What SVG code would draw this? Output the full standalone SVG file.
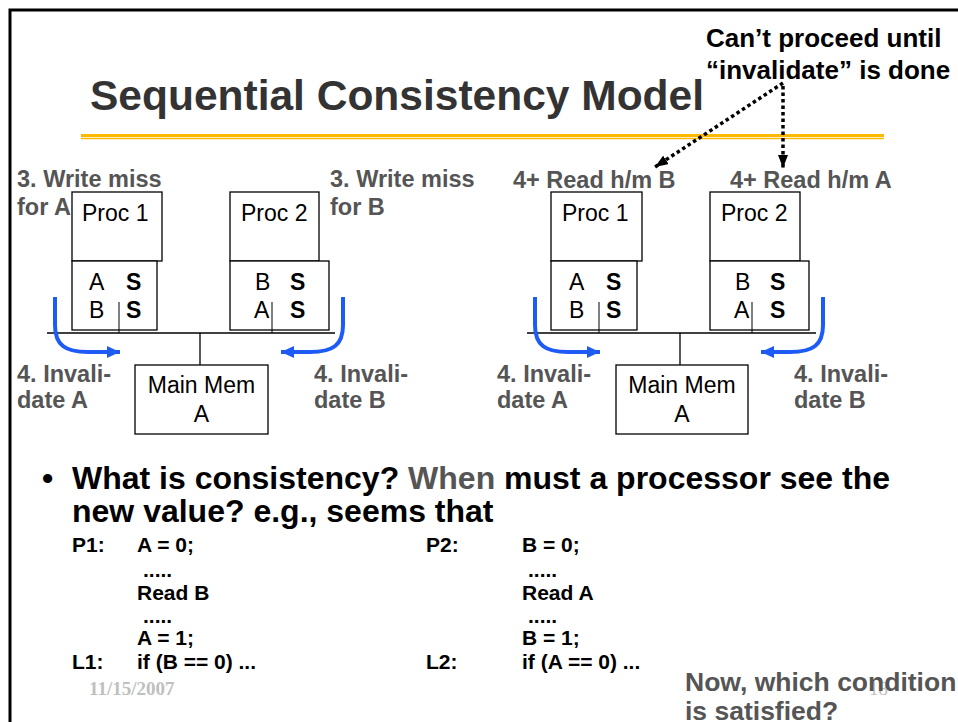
<svg xmlns="http://www.w3.org/2000/svg" width="958" height="722" viewBox="0 0 958 722">
<defs>
<style>
.b{font-family:"Liberation Sans",Arial,sans-serif;font-weight:bold}
.r{font-family:"Liberation Sans",Arial,sans-serif}
.lbl{font-family:"Liberation Sans",Arial,sans-serif;font-weight:bold;font-size:23.5px;fill:#555}
.box{fill:#fff;stroke:#000;stroke-width:1.3}
.t23{font-size:23px;fill:#000}
.code{font-family:"Liberation Sans",Arial,sans-serif;font-weight:bold;font-size:21px;fill:#000}
.dot{stroke:#000;stroke-width:3.5;stroke-dasharray:3.5 3;fill:none}
.blue{stroke:#1E5AF5;stroke-width:4;fill:none}
</style>
<marker id="bh" viewBox="0 0 13 10" refX="13" refY="5" markerWidth="13" markerHeight="10" markerUnits="userSpaceOnUse" orient="auto"><path d="M0,0 L13,5 L0,10 z" fill="#000"/></marker>
<marker id="blh" viewBox="0 0 13 12" refX="13" refY="6" markerWidth="13" markerHeight="12" markerUnits="userSpaceOnUse" orient="auto"><path d="M0,0 L13,6 L0,12 z" fill="#1E5AF5"/></marker>
</defs>
<rect width="958" height="722" fill="#fff"/>
<rect x="10" y="10" width="1000" height="800" fill="none" stroke="#000" stroke-width="3"/>

<g id="title">
<text class="b" x="90" y="110" font-size="42.5" fill="#333">Sequential Consistency Model</text>
<line x1="81" y1="135.5" x2="884" y2="135.5" stroke="#FBBA00" stroke-width="3"/>
<line x1="81" y1="138.5" x2="884" y2="138.5" stroke="#FBBA00" stroke-width="1.3"/>
</g>

<g id="note">
<text class="b" x="706" y="47" font-size="26" fill="#000">Can’t proceed until</text>
<text class="b" x="706" y="79" font-size="26" fill="#000">“invalidate” is done</text>
</g>

<g id="left-panel">
<g id="l-proc1"><rect class="box" x="72" y="192" width="90" height="69"/><text class="r t23" x="82" y="221">Proc 1</text></g>
<g id="l-cache1"><rect class="box" x="72" y="261" width="85" height="69"/>
<text class="r t23" x="89" y="290">A</text><text class="b t23" x="126" y="290">S</text>
<text class="r t23" x="89" y="318">B</text><text class="b t23" x="126" y="318">S</text>
<line x1="119" y1="302" x2="119" y2="333" stroke="#000" stroke-width="1"/></g>
<g id="l-proc2"><rect class="box" x="230" y="192" width="89" height="69"/><text class="r t23" x="241" y="221">Proc 2</text></g>
<g id="l-cache2"><rect class="box" x="230" y="261" width="99" height="69"/>
<text class="r t23" x="255" y="290">B</text><text class="b t23" x="290" y="290">S</text>
<text class="r t23" x="254" y="318">A</text><text class="b t23" x="290" y="318">S</text>
<line x1="272" y1="302" x2="272" y2="333" stroke="#000" stroke-width="1"/></g>
<g id="l-bus"><line x1="47" y1="333" x2="335" y2="333" stroke="#000" stroke-width="1.3"/><line x1="200" y1="333" x2="200" y2="365" stroke="#000" stroke-width="1.3"/></g>
<g id="l-mem"><rect class="box" x="135" y="365" width="133" height="69"/>
<text class="r t23" x="201.5" y="393" text-anchor="middle">Main Mem</text><text class="r t23" x="201.5" y="422" text-anchor="middle">A</text></g>
<g id="l-labels">
<text class="lbl" x="17" y="187">3. Write miss</text><text class="lbl" x="17" y="215">for A</text>
<text class="lbl" x="330" y="187">3. Write miss</text><text class="lbl" x="330" y="215">for B</text>
<text class="lbl" x="17" y="382">4. Invali-</text><text class="lbl" x="17" y="408">date A</text>
<text class="lbl" x="314" y="382">4. Invali-</text><text class="lbl" x="314" y="408">date B</text>
</g>
</g>

<g id="right-panel">
<g id="r-proc1"><rect class="box" x="551" y="192" width="91" height="69"/><text class="r t23" x="562" y="221">Proc 1</text></g>
<g id="r-cache1"><rect class="box" x="551" y="261" width="86" height="69"/>
<text class="r t23" x="569" y="290">A</text><text class="b t23" x="606" y="290">S</text>
<text class="r t23" x="569" y="318">B</text><text class="b t23" x="606" y="318">S</text>
<line x1="599" y1="302" x2="599" y2="333" stroke="#000" stroke-width="1"/></g>
<g id="r-proc2"><rect class="box" x="710" y="192" width="90" height="69"/><text class="r t23" x="721" y="221">Proc 2</text></g>
<g id="r-cache2"><rect class="box" x="710" y="261" width="99" height="69"/>
<text class="r t23" x="735" y="290">B</text><text class="b t23" x="770" y="290">S</text>
<text class="r t23" x="734" y="318">A</text><text class="b t23" x="770" y="318">S</text>
<line x1="752" y1="302" x2="752" y2="333" stroke="#000" stroke-width="1"/></g>
<g id="r-bus"><line x1="527" y1="333" x2="816" y2="333" stroke="#000" stroke-width="1.3"/><line x1="680" y1="333" x2="680" y2="365" stroke="#000" stroke-width="1.3"/></g>
<g id="r-mem"><rect class="box" x="616" y="365" width="132" height="69"/>
<text class="r t23" x="682" y="393" text-anchor="middle">Main Mem</text><text class="r t23" x="682" y="422" text-anchor="middle">A</text></g>
<g id="r-labels">
<text class="lbl" x="513" y="188">4+ Read h/m B</text>
<text class="lbl" x="730" y="188">4+ Read h/m A</text>
<text class="lbl" x="497" y="382">4. Invali-</text><text class="lbl" x="497" y="408">date A</text>
<text class="lbl" x="794" y="382">4. Invali-</text><text class="lbl" x="794" y="408">date B</text>
</g>
</g>

<g id="connectors">
<line class="dot" x1="783" y1="83" x2="655" y2="167" marker-end="url(#bh)"/>
<line class="dot" x1="783" y1="86" x2="783" y2="168" marker-end="url(#bh)"/>
<path class="blue" d="M55,297 L55,325 C55,345 65,352 88,352 L120,352" marker-end="url(#blh)"/>
<path class="blue" d="M343,297 L343,325 C343,345 333,352 310,352 L281,352" marker-end="url(#blh)"/>
<path class="blue" d="M535,297 L535,325 C535,345 545,352 568,352 L600,352" marker-end="url(#blh)"/>
<path class="blue" d="M823,297 L823,325 C823,345 813,352 790,352 L761,352" marker-end="url(#blh)"/>
</g>

<g id="bullet">
<text class="b" x="42" y="489" font-size="32" fill="#000">•</text>
<text class="b" x="72" y="489" font-size="32" fill="#000">What is consistency? <tspan fill="#555">When</tspan> must a processor see the</text>
<text class="b" x="72" y="522" font-size="32" fill="#000">new value? e.g., seems that</text>
</g>

<g id="code">
<text class="code" x="72" y="552">P1:</text><text class="code" x="137" y="552">A = 0;</text>
<text class="code" x="143" y="577">.....</text>
<text class="code" x="137" y="600">Read B</text>
<text class="code" x="143" y="623">.....</text>
<text class="code" x="137" y="645">A = 1;</text>
<text class="code" x="72" y="669">L1:</text><text class="code" x="137" y="669">if (B == 0) ...</text>
<text class="code" x="426" y="552">P2:</text><text class="code" x="522" y="552">B = 0;</text>
<text class="code" x="528" y="577">.....</text>
<text class="code" x="522" y="600">Read A</text>
<text class="code" x="528" y="623">.....</text>
<text class="code" x="522" y="645">B = 1;</text>
<text class="code" x="426" y="669">L2:</text><text class="code" x="522" y="669">if (A == 0) ...</text>
</g>

<g id="footer">
<text x="89" y="695" font-family="'Liberation Serif','Times New Roman',serif" font-weight="bold" font-size="19" fill="#BFBFBF">11/15/2007</text>
<text x="869" y="695" font-family="'Liberation Serif','Times New Roman',serif" font-size="19" fill="#BFBFBF">18</text>
<text class="b" x="685" y="691" font-size="26.5" fill="#555">Now, which condition</text>
<text class="b" x="685" y="720" font-size="26.5" fill="#555">is satisfied?</text>
</g>
</svg>
